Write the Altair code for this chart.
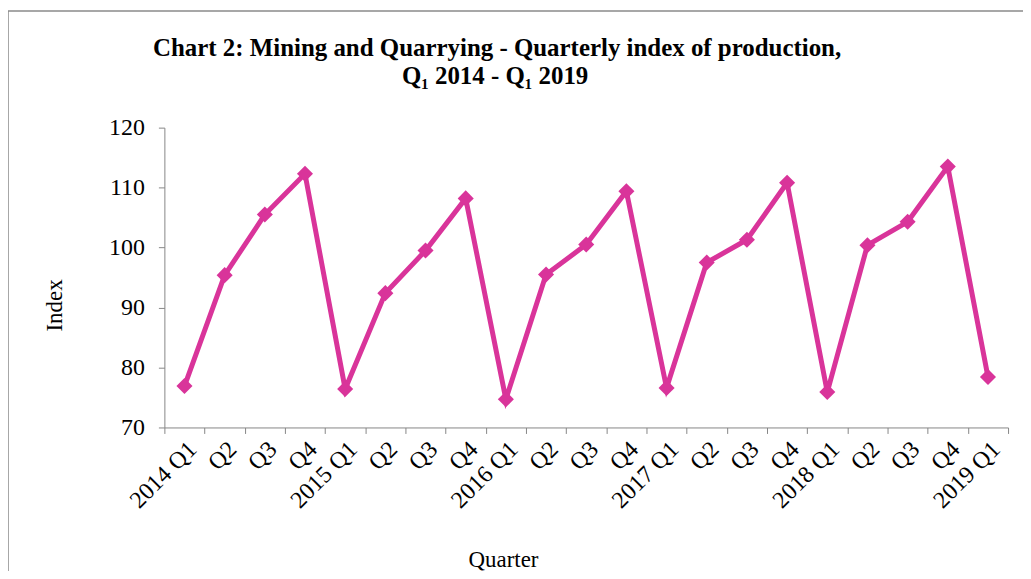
import altair as alt
import pandas as pd

quarters = ["2014 Q1", "Q2", "Q3", "Q4", "2015 Q1", "Q2", "Q3", "Q4",
            "2016 Q1", "Q2", "Q3", "Q4", "2017 Q1", "Q2", "Q3", "Q4",
            "2018 Q1", "Q2", "Q3", "Q4", "2019 Q1"]
index_values = [76.9, 95.4, 105.5, 112.3, 76.4, 92.4, 99.5, 108.2,
                74.7, 95.5, 100.5, 109.4, 76.6, 97.5, 101.3, 110.8,
                75.9, 100.4, 104.3, 113.5, 78.4]
y_ticks = [70, 80, 90, 100, 110, 120]
title_line1 = ["Chart 2: Mining and Quarrying - Quarterly index of production,"]
title_line2 = ["Q\u2081 2014  - Q\u2081 2019"]

FONT = "Liberation Serif"
LINE_COLOR = "#D9349A"
AXIS_COLOR = "#868686"
W, H = 847, 301
n = len(quarters)
band = W / n

df = pd.DataFrame({"pos": list(range(n)), "label": quarters, "value": index_values})

label_array = "[" + ",".join("'" + q + "'" for q in quarters) + ",'']"
tick_vals = [i - 0.5 for i in range(n + 1)]

x_enc = alt.X(
    "pos:Q",
    scale=alt.Scale(domain=[-0.5, n - 0.5], nice=False, zero=False),
    axis=alt.Axis(
        values=tick_vals,
        labelExpr=label_array + "[datum.value + 0.5]",
        labelOffset=band / 2 + 8,
        labelAngle=-45,
        labelAlign="right",
        labelBaseline="middle",
        labelPadding=12,
        labelFont=FONT,
        labelFontSize=24,
        labelFlush=False,
        labelOverlap=False,
        labelBound=False,
        tickSize=6,
        grid=False,
        title="Quarter",
        titleFont=FONT,
        titleFontSize=23,
        titleFontWeight="normal",
        titleX=340,
        titleY=140,
        titleBaseline="alphabetic",
        titleAlign="center",
    ),
)
y_enc = alt.Y(
    "value:Q",
    scale=alt.Scale(domain=[70, 120], nice=False, zero=False),
    axis=alt.Axis(
        values=y_ticks,
        labelFont=FONT,
        labelFontSize=24,
        labelPadding=14,
        tickSize=6,
        grid=False,
        title="Index",
        titleFont=FONT,
        titleFontSize=23,
        titleFontWeight="normal",
        titleAngle=-90,
        titleX=-110,
        titleY=178,
        titleAlign="center",
        titleBaseline="middle",
    ),
)

border = alt.Chart(pd.DataFrame({"a": [0]})).mark_rect(
    fillOpacity=0, stroke="#8a8a8a", strokeWidth=1.5
).encode(
    x=alt.value(-157), x2=alt.value(870), y=alt.value(-117), y2=alt.value(470)
)

line = alt.Chart(df).mark_line(color=LINE_COLOR, strokeWidth=5).encode(x=x_enc, y=y_enc)
points = alt.Chart(df).mark_point(
    shape="diamond", filled=True, size=260, color=LINE_COLOR, opacity=1
).encode(x=x_enc, y=y_enc)

t1 = alt.Chart(pd.DataFrame({"t": title_line1})).mark_text(
    font=FONT, fontSize=25, fontWeight="bold", align="center", baseline="middle", color="black"
).encode(x=alt.value(334), y=alt.value(-80), text="t:N")
t2 = alt.Chart(pd.DataFrame({"t": title_line2})).mark_text(
    font=FONT, fontSize=25, fontWeight="bold", align="center", baseline="middle", color="black"
).encode(x=alt.value(332), y=alt.value(-52), text="t:N")

chart = alt.layer(border, line, points, t1, t2).properties(
    width=W,
    height=H,
    autosize=alt.AutoSizeParams(type="none"),
    padding={"left": 157, "top": 119, "right": 15, "bottom": 143},
    background="white",
).configure_view(stroke=None).configure_axis(
    domainColor=AXIS_COLOR, tickColor=AXIS_COLOR, labelColor="black", titleColor="black"
)

chart.save("out.html", embed_options={"renderer": "svg", "actions": False})
